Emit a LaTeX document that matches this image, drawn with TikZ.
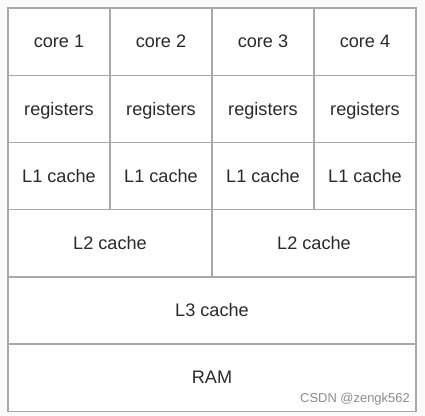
\documentclass[tikz,border=0pt]{standalone}
\usepackage{fontspec}
\setmainfont{Liberation Sans}
\definecolor{bgc}{HTML}{FAFAFA}
\definecolor{linec}{HTML}{A8A8A8}
\definecolor{txtc}{HTML}{2A2A2A}
\definecolor{wmc}{HTML}{8C8C8C}
\begin{document}
\begin{tikzpicture}[x=1bp,y=-1bp,
  cell/.style={draw=linec,line width=1.4bp,fill=white,text=txtc,font=\fontsize{18.2}{20}\selectfont,inner sep=0pt,text height=12.6bp,text depth=0bp,minimum height=67.2bp},
  q/.style={cell,minimum width=102bp},
  h/.style={cell,minimum width=204bp},
  f/.style={cell,minimum width=408bp}]
\fill[bgc] (0,0) rectangle (425,416);
\useasboundingbox (0,0) rectangle (425,416);
% row 1
\node[q] (c1) at (59,41.6) {core 1};
\node[q] (c2) at (161,41.6) {core 2};
\node[q] (c3) at (263,41.6) {core 3};
\node[q] (c4) at (365,41.6) {core 4};
% row 2
\node[q] (r1) at (59,108.8) {registers};
\node[q] (r2) at (161,108.8) {registers};
\node[q] (r3) at (263,108.8) {registers};
\node[q] (r4) at (365,108.8) {registers};
% row 3
\node[q] (l1a) at (59,176) {L1 cache};
\node[q] (l1b) at (161,176) {L1 cache};
\node[q] (l1c) at (263,176) {L1 cache};
\node[q] (l1d) at (365,176) {L1 cache};
% row 4
\node[h] (l2a) at (110,243.2) {L2 cache};
\node[h] (l2b) at (314,243.2) {L2 cache};
% row 5
\node[f] (l3) at (212,310.4) {L3 cache};
% row 6
\node[f] (ram) at (212,377.6) {RAM};
% watermark
\node[anchor=east,text=wmc,font=\fontsize{13}{14}\selectfont,inner sep=0pt] (wm) at (410,399) {CSDN @zengk562};
\end{tikzpicture}
\end{document}
